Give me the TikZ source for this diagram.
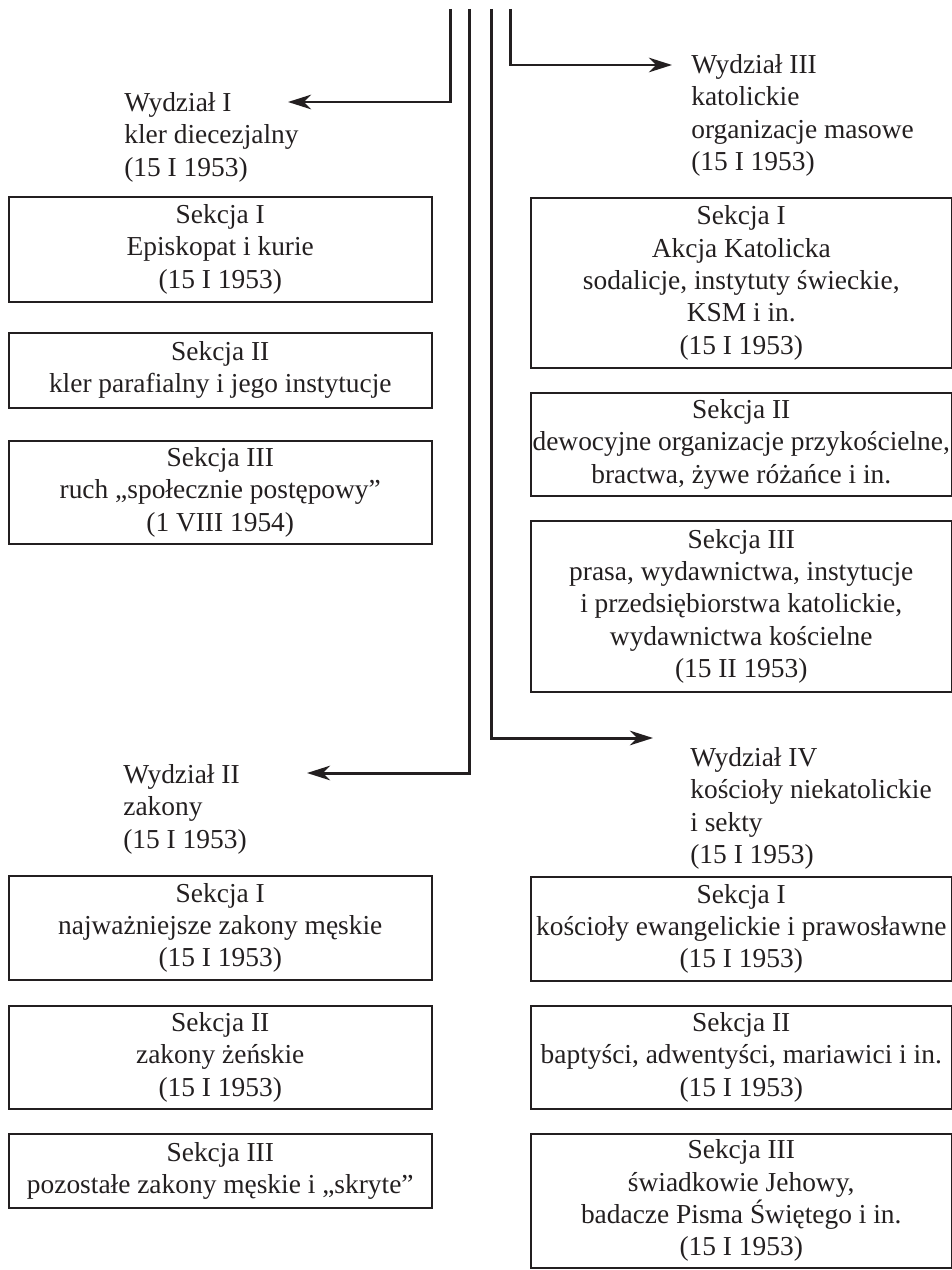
\documentclass[tikz,border=0pt]{standalone}
\usepackage{fontspec}
\setmainfont{Liberation Serif}
\usetikzlibrary{arrows.meta}
\definecolor{ink}{HTML}{231F20}
\tikzset{
	tekst/.style={text=ink, inner sep=0pt, anchor=north west, font=\fontsize{15.6}{18.4}\selectfont},
	sekcja/.style={tekst, draw=ink, line width=0.9pt, align=center},
	lewa/.style={sekcja, minimum width=8.46cm},
	prawa/.style={sekcja, minimum width=8.42cm},
	wydzial/.style={tekst, align=left},
	linia/.style={draw=ink, line width=1.7pt},
	strzalka/.style={linia, -{Stealth[length=4.6mm, width=2.9mm, inset=1.4mm]}}
}
\begin{document}
\begin{tikzpicture}[x=0.02cm, y=-0.02cm]
	%\draw[help lines] (0,0) grid (952,1270);
	\useasboundingbox (0,0) rectangle (952,1270);

	% wydzialy
	\node [wydzial] (w1) at (124,92) {Wydział I\\kler diecezjalny\\(15 I 1953)};
	\node [wydzial] (w3) at (691,54) {Wydział III\\katolickie\\organizacje masowe\\(15 I 1953)};
	\node [wydzial] (w2) at (123,764) {Wydział II\\zakony\\(15 I 1953)};
	\node [wydzial] (w4) at (690,747) {Wydział IV\\kościoły niekatolickie\\i sekty\\(15 I 1953)};

	% linie z gory
	\coordinate (s1) at (450,9);
	\coordinate (s2) at (469,9);
	\coordinate (s3) at (491,9);
	\coordinate (s4) at (510,9);
	\coordinate (k1) at (288,102);
	\coordinate (k2) at (307,773);
	\coordinate (k3) at (653,738);
	\coordinate (k4) at (672,65);
	\draw [strzalka] (s1) |- (k1);
	\draw [strzalka] (s2) |- (k2);
	\draw [strzalka] (s3) |- (k3);
	\draw [strzalka] (s4) |- (k4);

	% sekcje wydzialu I
	\node [lewa, minimum height=2.1cm] (l1) at (8,196) {Sekcja I\\Episkopat i kurie\\(15 I 1953)};
	\node [lewa, minimum height=1.5cm] (l2) at (8,332) {Sekcja II\\kler parafialny i jego instytucje};
	\node [lewa, minimum height=2.06cm] (l3) at (8,440) {Sekcja III\\ruch „społecznie postępowy”\\(1 VIII 1954)};

	% sekcje wydzialu III
	\node [prawa, minimum height=3.4cm] (r1) at (530,197) {Sekcja I\\Akcja Katolicka\\sodalicje, instytuty świeckie,\\KSM i in.\\(15 I 1953)};
	\node [prawa, minimum height=2.06cm] (r2) at (530,392) {Sekcja II\\dewocyjne organizacje przykościelne,\\bractwa, żywe różańce i in.};
	\node [prawa, minimum height=3.42cm] (r3) at (530,520) {Sekcja III\\prasa, wydawnictwa, instytucje\\i przedsiębiorstwa katolickie,\\wydawnictwa kościelne\\(15 II 1953)};

	% sekcje wydzialu II
	\node [lewa, minimum height=2.08cm] (lb1) at (8,875) {Sekcja I\\najważniejsze zakony męskie\\(15 I 1953)};
	\node [lewa, minimum height=2.06cm] (lb2) at (8,1005) {Sekcja II\\zakony żeńskie\\(15 I 1953)};
	\node [lewa, minimum height=1.48cm] (lb3) at (8,1133) {Sekcja III\\pozostałe zakony męskie i „skryte”};

	% sekcje wydzialu IV
	\node [prawa, minimum height=2.08cm] (rb1) at (530,876) {Sekcja I\\kościoły ewangelickie i prawosławne\\(15 I 1953)};
	\node [prawa, minimum height=2.06cm] (rb2) at (530,1005) {Sekcja II\\baptyści, adwentyści, mariawici i in.\\(15 I 1953)};
	\node [prawa, minimum height=2.68cm] (rb3) at (530,1133) {Sekcja III\\świadkowie Jehowy,\\badacze Pisma Świętego i in.\\(15 I 1953)};
\end{tikzpicture}
\end{document}
